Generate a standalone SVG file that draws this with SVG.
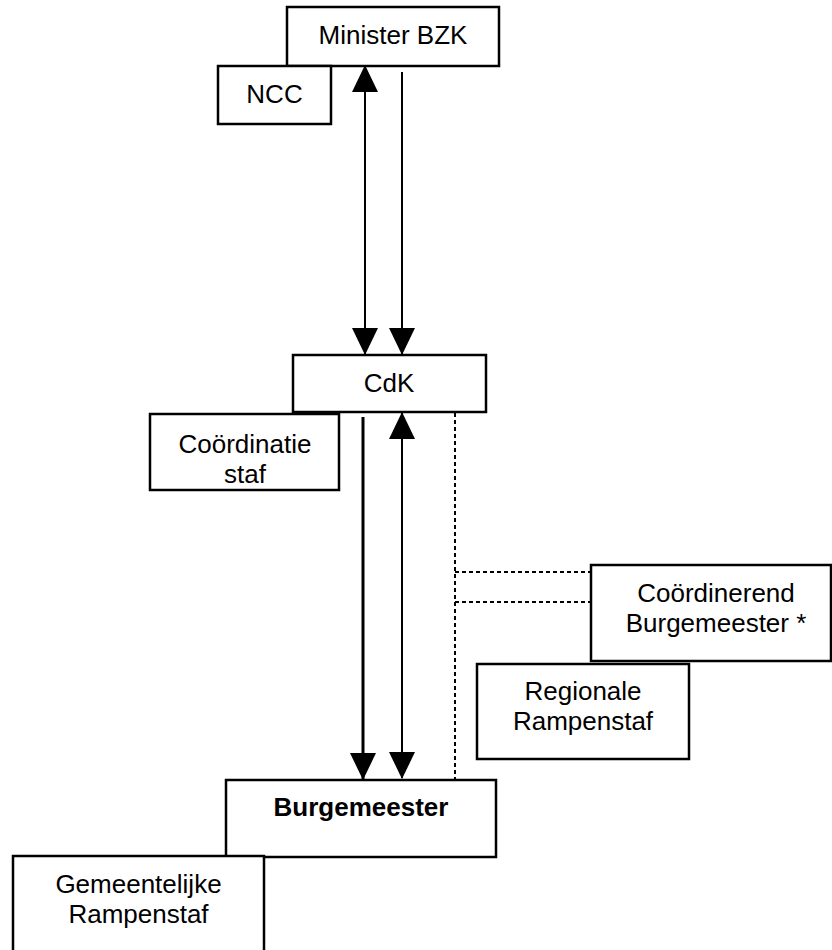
<svg xmlns="http://www.w3.org/2000/svg" width="832" height="950" viewBox="0 0 832 950">
<style>
.box{fill:#fff;stroke:#000;stroke-width:2.5}
.t{font-family:"Liberation Sans",Arial,sans-serif;font-size:26px;fill:#000;text-anchor:middle}
.b{font-weight:bold}
.ln{stroke:#000;fill:none}
.dot{stroke:#000;stroke-width:2;stroke-dasharray:4 3;fill:none}
</style>
<defs>
<marker id="ah" viewBox="0 0 27 26" refX="26" refY="13" markerWidth="27" markerHeight="26" markerUnits="userSpaceOnUse" orient="auto-start-reverse">
<path d="M0,0 L27,13 L0,26 Z" fill="#000"/>
</marker>
</defs>
<rect width="832" height="950" fill="#fff"/>
<g id="connectors">
<line class="ln" stroke-width="2" x1="365" y1="66" x2="365" y2="354" marker-start="url(#ah)" marker-end="url(#ah)"/>
<line class="ln" stroke-width="2" x1="402" y1="72" x2="402" y2="354" marker-end="url(#ah)"/>
<line class="ln" stroke-width="3" x1="363" y1="417" x2="363" y2="779" marker-end="url(#ah)"/>
<line class="ln" stroke-width="2" x1="402" y1="413" x2="402" y2="778" marker-start="url(#ah)" marker-end="url(#ah)"/>
<line class="dot" x1="455" y1="413" x2="455" y2="780"/>
<line class="dot" x1="455" y1="572" x2="591" y2="572"/>
<line class="dot" x1="455" y1="602" x2="591" y2="602"/>
</g>
<g id="minister">
<rect class="box" x="287" y="7" width="212" height="59"/>
<text class="t" x="393" y="44">Minister BZK</text>
</g>
<g id="ncc">
<rect class="box" x="218" y="66" width="113" height="58"/>
<text class="t" x="274.5" y="103">NCC</text>
</g>
<g id="cdk">
<rect class="box" x="293" y="355" width="193" height="57"/>
<text class="t" x="389" y="392">CdK</text>
</g>
<g id="coordinatiestaf">
<rect class="box" x="150" y="414" width="189" height="76"/>
<text class="t" x="245" y="453">Coördinatie</text>
<text class="t" x="245" y="483">staf</text>
</g>
<g id="coordinerend">
<rect class="box" x="591" y="565" width="240" height="96"/>
<text class="t" x="716" y="602">Coördinerend</text>
<text class="t" x="716" y="632">Burgemeester *</text>
</g>
<g id="regionale">
<rect class="box" x="477" y="664" width="212" height="95"/>
<text class="t" x="583" y="700">Regionale</text>
<text class="t" x="583" y="730">Rampenstaf</text>
</g>
<g id="burgemeester">
<rect class="box" x="226" y="780" width="270" height="77"/>
<text class="t b" x="361" y="816">Burgemeester</text>
</g>
<g id="gemeentelijke">
<rect class="box" x="13" y="856" width="251" height="100"/>
<text class="t" x="138.5" y="893">Gemeentelijke</text>
<text class="t" x="138.5" y="923">Rampenstaf</text>
</g>
</svg>
